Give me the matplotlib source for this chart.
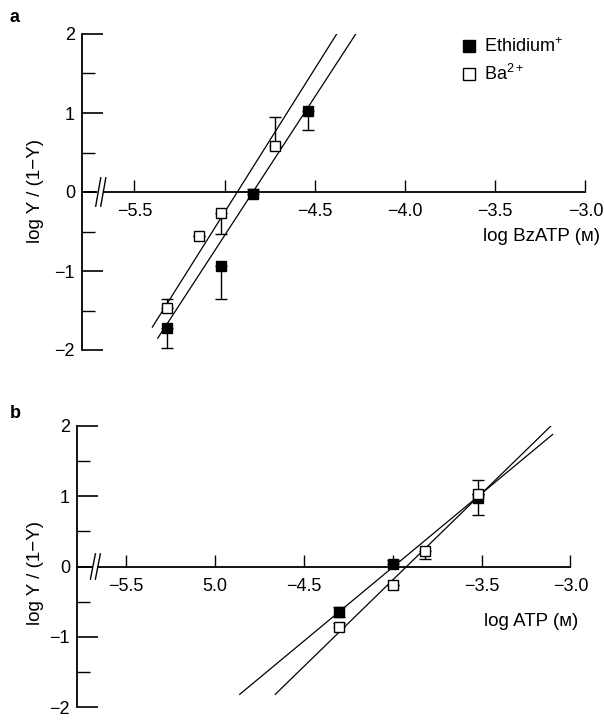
import matplotlib
matplotlib.use('Agg')
import matplotlib.pyplot as plt
from matplotlib.lines import Line2D
import numpy as np

plt.rcParams['font.family'] = ['Liberation Sans', 'DejaVu Sans']
plt.rcParams['mathtext.fontset'] = 'custom'
plt.rcParams['mathtext.rm'] = 'Liberation Sans'

# panel a: BzATP
a_eth_x = [-5.32, -5.02, -4.84, -4.54]
a_eth_y = [-1.72, -0.94, -0.02, 1.03]
a_eth_lo = [0.26, 0.42, 0.0, 0.24]
a_eth_hi = [0.0, 0.0, 0.06, 0.0]
a_ba_x = [-5.32, -5.14, -5.02, -4.72]
a_ba_y = [-1.47, -0.56, -0.26, 0.58]
a_ba_lo = [0.0, 0.0, 0.27, 0.0]
a_ba_hi = [0.11, 0.0, 0.0, 0.37]
a_fit_eth_x = [-5.37, -4.25]
a_fit_eth_y = [-1.85, 2.08]
a_fit_ba_x = [-5.40, -4.34]
a_fit_ba_y = [-1.71, 2.14]

# panel b: ATP
b_eth_x = [-4.30, -4.00, -3.52]
b_eth_y = [-0.65, 0.04, 0.97]
b_eth_lo = [0.07, 0.0, 0.24]
b_eth_hi = [0.07, 0.05, 0.26]
b_ba_x = [-4.30, -4.00, -3.82, -3.52]
b_ba_y = [-0.86, -0.26, 0.22, 1.03]
b_ba_lo = [0.0, 0.0, 0.11, 0.0]
b_ba_hi = [0.05, 0.0, 0.0, 0.0]
b_fit_eth_x = [-4.86, -3.10]
b_fit_eth_y = [-1.82, 1.88]
b_fit_ba_x = [-4.66, -3.11]
b_fit_ba_y = [-1.82, 2.00]

xticks = [-5.5, -5.0, -4.5, -4.0, -3.5, -3.0]
a_xlabels = ['\u22125.5', '', '\u22124.5', '\u22124.0', '\u22123.5', '\u22123.0']
b_xlabels = ['\u22125.5', '5.0', '\u22124.5', '', '\u22123.5', '\u22123.0']
yticks = [-2, -1, 0, 1, 2]
ylabels = ['\u22122', '\u22121', '0', '1', '2']

W, H = 604, 720
fig = plt.figure(figsize=(6.04, 7.2), dpi=100)


def px(l, t, r, b):
    return [l / W, 1 - b / H, (r - l) / W, (b - t) / H]


def panel(ax, xlim, xlabels, eth, ba, fits):
    for fx, fy in fits:
        ax.plot(fx, fy, color='black', lw=0.9)
    ex, ey, elo, ehi = eth
    ax.errorbar(ex, ey, yerr=[elo, ehi], fmt='s', color='black', mfc='black',
                ms=7.5, capsize=4, elinewidth=1, capthick=1, zorder=3)
    bx, by, blo, bhi = ba
    ax.errorbar(bx, by, yerr=[blo, bhi], fmt='s', color='black', mfc='white',
                ms=7.5, capsize=4, elinewidth=1, capthick=1, zorder=4)
    ax.set_xlim(*xlim)
    ax.set_ylim(-2, 2)
    ax.spines['top'].set_visible(False)
    ax.spines['right'].set_visible(False)
    ax.spines['bottom'].set_position(('data', 0))
    ax.spines['bottom'].set_bounds(xlim[0], -3.0)
    ax.spines['left'].set_linewidth(1.3)
    ax.spines['bottom'].set_linewidth(1.3)
    ax.set_xticks(xticks)
    ax.set_xticklabels(xlabels)
    ax.set_yticks(yticks)
    ax.set_yticklabels(ylabels)
    ax.set_yticks([-1.5, -0.5, 0.5, 1.5], minor=True)
    ax.tick_params(axis='x', direction='in', length=9, width=1, labelsize=13, pad=8)
    ax.tick_params(axis='y', which='major', direction='in', length=15, width=1.2,
                   labelsize=13, pad=5)
    ax.tick_params(axis='y', which='minor', direction='in', length=9, width=1)
    # axis break marks
    ax.plot([0.036, 0.036], [0.47, 0.53], transform=ax.transAxes, color='white',
            lw=4, clip_on=False, zorder=5)
    for dx in (0.027, 0.037):
        ax.plot([dx, dx + 0.010], [0.455, 0.545], transform=ax.transAxes,
                color='black', lw=1, clip_on=False, zorder=6)


ax1 = fig.add_axes(px(82, 34, 589, 350))
panel(ax1, (-5.79, -2.98), a_xlabels,
      (a_eth_x, a_eth_y, a_eth_lo, a_eth_hi),
      (a_ba_x, a_ba_y, a_ba_lo, a_ba_hi),
      [(a_fit_eth_x, a_fit_eth_y), (a_fit_ba_x, a_fit_ba_y)])

ax2 = fig.add_axes(px(77, 426, 574, 707))
panel(ax2, (-5.775, -2.98), b_xlabels,
      (b_eth_x, b_eth_y, b_eth_lo, b_eth_hi),
      (b_ba_x, b_ba_y, b_ba_lo, b_ba_hi),
      [(b_fit_eth_x, b_fit_eth_y), (b_fit_ba_x, b_fit_ba_y)])

handles = [Line2D([], [], ls='', marker='s', ms=8, mfc='black', mec='black'),
           Line2D([], [], ls='', marker='s', ms=8, mfc='white', mec='black')]
ax1.legend(handles, [r'Ethidium$^{+}$', r'Ba$^{2+}$'], frameon=False,
           loc='upper left', bbox_to_anchor=(455 / W, 1 - 30 / H),
           bbox_transform=fig.transFigure, handlelength=0.8, handletextpad=0.4,
           fontsize=13, labelspacing=0.45, borderaxespad=0)

fig.text(600 / W, 1 - 237 / H, 'log BzATP (\u1d0d)', ha='right', va='center', fontsize=13.5)
fig.text(578 / W, 1 - 622 / H, 'log ATP (\u1d0d)', ha='right', va='center', fontsize=13.5)
fig.text(36 / W, 1 - 191 / H, 'log Y / (1\u2212Y)', rotation=90, ha='center', va='center', fontsize=13.5)
fig.text(36 / W, 1 - 573 / H, 'log Y / (1\u2212Y)', rotation=90, ha='center', va='center', fontsize=13.5)
fig.text(10 / W, 1 - 18 / H, 'a', fontsize=13, fontweight='bold', va='center')
fig.text(10 / W, 1 - 413 / H, 'b', fontsize=13, fontweight='bold', va='center')

fig.savefig('out.png', dpi=100)
